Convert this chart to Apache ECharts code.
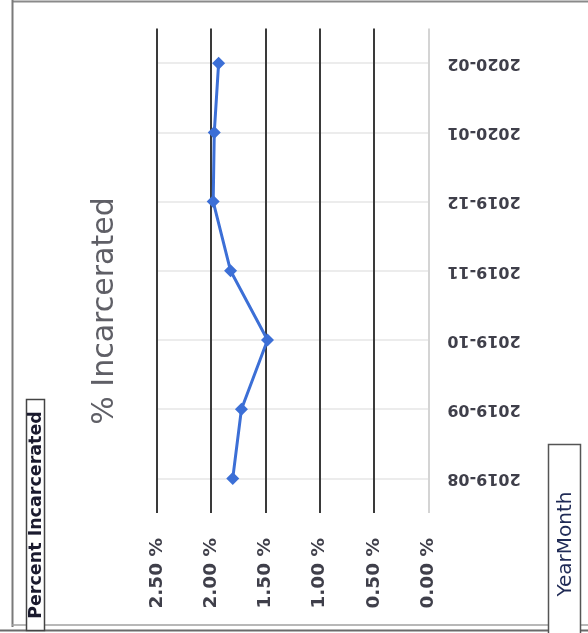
<!DOCTYPE html>
<html>
<head>
<meta charset="utf-8">
<script src="https://cdn.jsdelivr.net/npm/echarts@6/dist/echarts.min.js"></script>
<style>
  html, body { margin: 0; padding: 0; background: #fff; }
  #chart { width: 588px; height: 633px; }
</style>
</head>
<body>
<div id="chart"></div>
<script>
// Monthly share of people incarcerated, by YearMonth
const months = ['2019-08', '2019-09', '2019-10', '2019-11', '2019-12', '2020-01', '2020-02'];
const percentIncarcerated = [1.80, 1.72, 1.48, 1.82, 1.98, 1.97, 1.93];
const valueTicks = [0, 0.5, 1.0, 1.5, 2.0, 2.5];

const chart = echarts.init(document.getElementById('chart'), null, { renderer: 'canvas' });

// the zero line is light, the other value lines are dark
const splitColors = valueTicks.map(v => (v === 0 ? '#d4d4d4' : '#3a3a3a'));

chart.setOption({
  backgroundColor: '#ffffff',
  animation: false,
  grid: { left: 156.7, right: 159.7, top: 28.6, bottom: 120 },
  xAxis: {
    type: 'value',
    min: valueTicks[0],
    max: valueTicks[valueTicks.length - 1],
    interval: 0.5,
    inverse: true,
    position: 'bottom',
    axisLine: { show: false },
    axisTick: { show: false },
    axisLabel: {
      rotate: 90,
      margin: 25,
      fontFamily: 'DejaVu Sans',
      fontWeight: 'bold',
      fontSize: 18.5,
      color: '#3f3f4a',
      formatter: v => v.toFixed(2) + ' %'
    },
    splitLine: { show: true, lineStyle: { color: splitColors, width: 2 } }
  },
  yAxis: {
    type: 'category',
    data: months,
    position: 'right',
    boundaryGap: true,
    axisLine: { show: false },
    axisTick: { show: false },
    axisLabel: {
      rotate: 180,
      margin: 19,
      fontFamily: 'DejaVu Sans',
      fontWeight: 'bold',
      fontSize: 16,
      color: '#3f3f4a'
    },
    splitLine: { show: true, alignWithLabel: true, lineStyle: { color: '#e6e6e6', width: 1.5 } }
  },
  series: [{
    type: 'line',
    data: percentIncarcerated,
    symbol: 'diamond',
    symbolSize: 13,
    lineStyle: { color: '#3c6fd6', width: 3 },
    itemStyle: { color: '#3c6fd6' }
  }],
  graphic: [
    // outer frame
    { type: 'line', shape: { x1: 12, y1: 1.5, x2: 588, y2: 1.5 }, style: { stroke: '#8a8a8a', lineWidth: 2 } },
    { type: 'line', shape: { x1: 12.5, y1: 0, x2: 12.5, y2: 627 }, style: { stroke: '#7a7a7a', lineWidth: 2 } },
    { type: 'line', shape: { x1: 12, y1: 625, x2: 588, y2: 625 }, style: { stroke: '#a0a0a0', lineWidth: 1.5 } },
    { type: 'line', shape: { x1: 0, y1: 630.5, x2: 588, y2: 630.5 }, style: { stroke: '#6a6a6a', lineWidth: 2 } },
    // value axis title
    {
      type: 'text', x: 105, y: 311, rotation: Math.PI / 2,
      style: {
        text: '% Incarcerated', fontFamily: 'DejaVu Sans', fontSize: 30,
        fill: '#5f5f66', align: 'center', verticalAlign: 'middle'
      }
    },
    // field button: value
    { type: 'rect', shape: { x: 26.5, y: 399.5, width: 18, height: 231 }, style: { fill: '#fff', stroke: '#444', lineWidth: 1.5 } },
    {
      type: 'text', x: 36, y: 515, rotation: Math.PI / 2,
      style: {
        text: 'Percent Incarcerated', fontFamily: 'DejaVu Sans', fontWeight: 'bold', fontSize: 17.5,
        fill: '#1a1a2e', align: 'center', verticalAlign: 'middle'
      }
    },
    // field button: category
    { type: 'rect', shape: { x: 548.5, y: 444.5, width: 32, height: 190 }, style: { fill: '#fff', stroke: '#555', lineWidth: 1.5 } },
    {
      type: 'text', x: 566, y: 544, rotation: Math.PI / 2,
      style: {
        text: 'YearMonth', fontFamily: 'DejaVu Sans', fontSize: 20,
        fill: '#1f2a55', align: 'center', verticalAlign: 'middle'
      }
    }
  ]
});
</script>
</body>
</html>
